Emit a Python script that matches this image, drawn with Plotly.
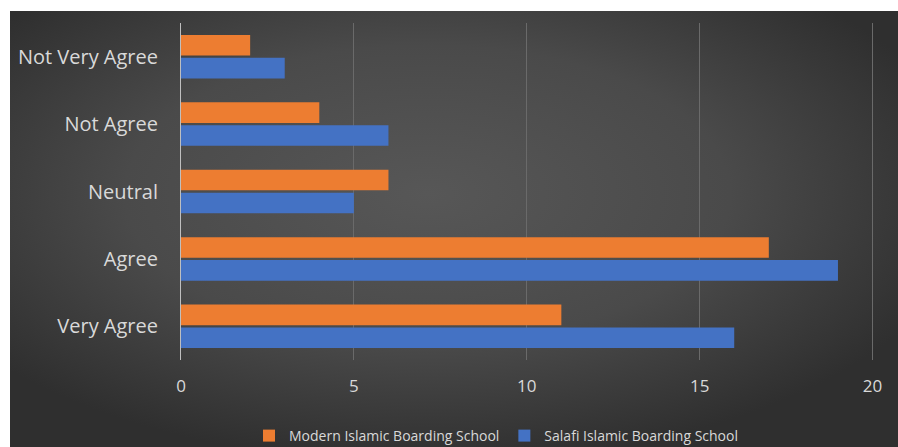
import plotly.graph_objects as go
import base64

categories = ["Very Agree", "Agree", "Neutral", "Not Agree", "Not Very Agree"]
modern = [11, 17, 6, 4, 2]
salafi = [16, 19, 5, 6, 3]
x_ticks = [0, 5, 10, 15, 20]

svg = ('<svg xmlns="http://www.w3.org/2000/svg" width="888" height="436" viewBox="0 0 888 436">'
       '<defs><radialGradient id="g" cx="0.47" cy="0.42" r="0.62">'
       '<stop offset="0" stop-color="#575757"/><stop offset="0.55" stop-color="#4a4a4a"/>'
       '<stop offset="1" stop-color="#2f2f2f"/></radialGradient></defs>'
       '<rect width="888" height="436" fill="url(#g)"/></svg>')
src = "data:image/svg+xml;base64," + base64.b64encode(svg.encode()).decode()

fig = go.Figure()
fig.add_trace(go.Bar(y=categories, x=salafi, orientation="h", name="Salafi Islamic Boarding School",
                     marker=dict(color="#4472C4", line=dict(width=0))))
fig.add_trace(go.Bar(y=categories, x=modern, orientation="h", name="Modern Islamic Boarding School",
                     marker=dict(color="#ED7D31", line=dict(width=0))))

W, H = 898, 447
L, R, T, B = 181, 22, 23, 87
pw, ph = W - L - R, H - T - B

txt = "#d9d9d9"
fig.update_layout(
    width=W, height=H,
    margin=dict(l=L, r=R, t=T, b=B, autoexpand=False),
    paper_bgcolor="white", plot_bgcolor="rgba(0,0,0,0)",
    barmode="group", bargap=0.32, bargroupgap=0.1,
    font=dict(family="Open Sans", size=18, color=txt),
    showlegend=True,
    legend=dict(orientation="h", traceorder="reversed", x=(496 - L) / pw, xanchor="center",
                y=-76 / ph, yanchor="middle",
                font=dict(family="Open Sans", size=14, color=txt),
                bgcolor="rgba(0,0,0,0)", itemwidth=30),
    images=[dict(source=src, xref="paper", yref="paper",
                 x=(10 - L) / pw, y=1 + (T - 11) / ph, sizex=(W - 10) / pw, sizey=(H - 11) / ph,
                 xanchor="left", yanchor="top", sizing="stretch", layer="below")],
)
fig.update_xaxes(range=[0, 20.1], tickvals=x_ticks, showgrid=True, gridcolor="#6a6a6a", gridwidth=1,
                 zeroline=False, showline=False, ticklabelstandoff=14,
                 tickfont=dict(family="Open Sans", size=17, color=txt), fixedrange=True)
fig.update_yaxes(showgrid=False, showline=True, linecolor="#bfbfbf", linewidth=1,
                 ticklabelstandoff=18, tickfont=dict(family="Open Sans", size=20, color=txt), fixedrange=True)

fig.write_html("out.html", config={"displayModeBar": False})
